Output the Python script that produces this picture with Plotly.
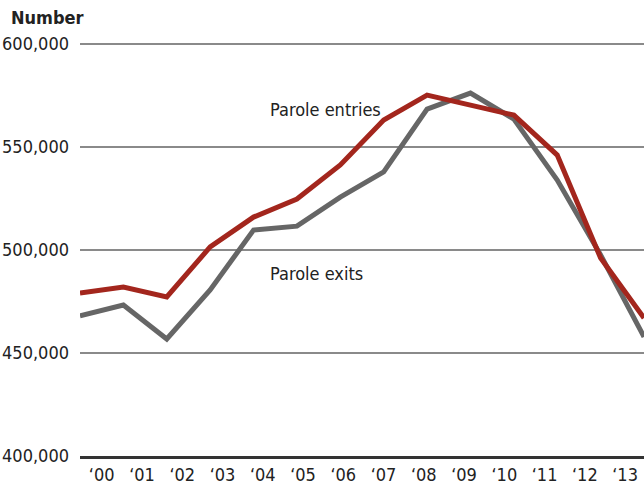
import plotly.graph_objects as go

years = list(range(2000, 2014))
year_labels = ["\u2018%02d" % (y % 100) for y in years]
parole_entries = [479100, 482000, 477200, 501500, 516000, 524800, 541300, 563100,
                  575200, 570600, 565500, 546100, 496100, 467000]
parole_exits = [468000, 473300, 456800, 480600, 509700, 511600, 525700, 537900,
                568400, 576200, 563600, 534000, 497600, 457800]
y_ticks = [400000, 450000, 500000, 550000, 600000]
y_tick_text = ["400,000", "450,000", "500,000", "550,000", "600,000"]

FONT = "DejaVu Sans Condensed, Roboto, sans-serif"
RED = "#a3261d"
GRAY = "#666666"
TXT = "#222222"

idx = list(range(len(years)))

fig = go.Figure()
fig.add_trace(go.Scatter(x=idx, y=parole_exits, mode="lines",
                         line=dict(color=GRAY, width=5), name="Parole exits",
                         hoverinfo="skip"))
fig.add_trace(go.Scatter(x=idx, y=parole_entries, mode="lines",
                         line=dict(color=RED, width=5), name="Parole entries",
                         hoverinfo="skip"))
fig.add_trace(go.Scatter(x=[], y=[], xaxis="x2", showlegend=False, hoverinfo="skip"))

fig.update_layout(
    width=644, height=487,
    margin=dict(l=80, r=0, t=42, b=31, autoexpand=False),
    paper_bgcolor="white", plot_bgcolor="white",
    showlegend=False,
    font=dict(family=FONT, size=18, color=TXT),
    xaxis=dict(range=[0, 13], showgrid=False, zeroline=False, showticklabels=False,
               showline=True, linecolor="#333333", linewidth=3, ticks=""),
    xaxis2=dict(overlaying="x", side="bottom", range=[-0.54, 13.47],
                tickvals=idx, ticktext=year_labels, showgrid=False, zeroline=False,
                showline=False, ticks="", ticklabelstandoff=6,
                tickfont=dict(size=18, color=TXT)),
    yaxis=dict(range=[400000, 601000], tickvals=y_ticks, ticktext=y_tick_text,
               showgrid=True, gridcolor="#8a8a8a", gridwidth=1.5, zeroline=False,
               ticks="", ticklabelstandoff=10, tickfont=dict(size=18, color=TXT)),
    annotations=[
        dict(text="<b>Number</b>", xref="paper", yref="paper", x=-0.126, y=1.0,
             yshift=25, xanchor="left", yanchor="middle", showarrow=False,
             font=dict(size=18, color=TXT)),
        dict(text="Parole entries", x=4.33, y=568000, xref="x", yref="y",
             xanchor="left", yanchor="middle", showarrow=False,
             font=dict(size=18, color=TXT)),
        dict(text="Parole exits", x=4.33, y=488800, xref="x", yref="y",
             xanchor="left", yanchor="middle", showarrow=False,
             font=dict(size=18, color=TXT)),
    ],
)

fig.write_html("out.html", config={"displayModeBar": False},
               post_script="document.body.style.margin='0';")
